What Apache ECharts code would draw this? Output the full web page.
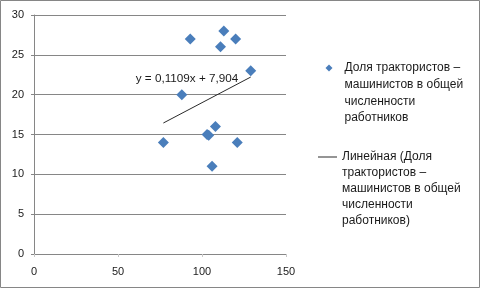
<!DOCTYPE html>
<html><head><meta charset="utf-8">
<script src="https://cdn.jsdelivr.net/npm/echarts@6/dist/echarts.min.js"></script>
<style>html,body{margin:0;padding:0;background:#fff}#c{width:481px;height:289px}</style>
</head><body><div id="c"></div>
<script>
const xValues = [77, 88, 93, 103, 104, 108, 106, 111, 113, 120, 121, 129];
const yValues = [14, 20, 27, 15, 14.9, 16, 11, 26, 28, 27, 14, 23];
const xTickValues = [0, 50, 100, 150];
const yTickValues = [0, 5, 10, 15, 20, 25, 30];
const trendSlope = 0.1109;
const trendIntercept = 7.904;
const trendLabel = 'y = 0,1109x + 7,904';
const seriesName = 'Доля трактористов – машинистов в общей численности работников';
const trendName = 'Линейная (Доля трактористов – машинистов в общей численности работников)';
const legendLines1 = ['Доля трактористов –', 'машинистов в общей', 'численности', 'работников'];
const legendLines2 = ['Линейная (Доля', 'трактористов –', 'машинистов в общей', 'численности', 'работников)'];

const FONT = '"Liberation Sans", Arial, sans-serif';
const TXT = '#1a1a1a';
const points = xValues.map((x, i) => [x, yValues[i]]);
const xMin = Math.min(...xValues), xMax = Math.max(...xValues);
const trendData = [[xMin, trendSlope * xMin + trendIntercept], [xMax, trendSlope * xMax + trendIntercept]];

function topAligned(lines) {
  return '\n'.repeat(lines.length - 1) + lines.join('\n');
}
const LH1 = 16.7, LH2 = 16;

const chart = echarts.init(document.getElementById('c'), null, {renderer: 'canvas'});
chart.setOption({
  animation: false,
  backgroundColor: '#fff',
  textStyle: {fontFamily: FONT},
  grid: {left: 34, right: 195, top: 15, bottom: 35, containLabel: false},
  xAxis: {
    type: 'value', min: xTickValues[0], max: xTickValues[xTickValues.length - 1], interval: xTickValues[1] - xTickValues[0],
    axisLine: {show: false},
    axisTick: {show: true, length: 3, lineStyle: {color: '#c8c8c8'}},
    splitLine: {show: false},
    axisLabel: {color: TXT, fontSize: 11, fontFamily: FONT, margin: 12}
  },
  yAxis: {
    type: 'value', min: yTickValues[0], max: yTickValues[yTickValues.length - 1], interval: yTickValues[1] - yTickValues[0],
    axisLine: {show: true, lineStyle: {color: '#868686', width: 1}},
    axisTick: {show: true, length: 3, lineStyle: {color: '#868686'}},
    splitLine: {show: true, lineStyle: {color: '#868686', width: 1}},
    axisLabel: {color: TXT, fontSize: 11, fontFamily: FONT, margin: 10}
  },
  legend: [
    {
      data: [{name: seriesName, icon: 'diamond'}],
      orient: 'vertical', left: 325.5, top: 68 - (2 * legendLines1.length - 1) * LH1 / 2, padding: 0,
      itemWidth: 7, itemHeight: 7,
      itemStyle: {opacity: 1},
      formatter: () => topAligned(legendLines1),
      textStyle: {color: TXT, fontSize: 12, fontFamily: FONT, lineHeight: LH1, padding: [0, 0, 0, 7]}
    },
    {
      data: [{name: trendName, icon: 'rect'}],
      orient: 'vertical', left: 318, top: 157 - (2 * legendLines2.length - 1) * LH2 / 2, padding: 0,
      itemWidth: 19, itemHeight: 1,
      formatter: () => topAligned(legendLines2),
      textStyle: {color: TXT, fontSize: 12, fontFamily: FONT, lineHeight: LH2}
    }
  ],
  series: [
    {
      name: seriesName, type: 'scatter', data: points,
      symbol: 'diamond', symbolSize: 11,
      itemStyle: {color: '#4a7ebb', opacity: 1}
    },
    {
      name: trendName, type: 'line', data: trendData,
      symbol: 'none', showSymbol: false,
      lineStyle: {color: '#2a2a2a', width: 1},
      itemStyle: {color: '#2a2a2a'},
      markPoint: {
        symbol: 'circle', symbolSize: 1,
        itemStyle: {color: 'rgba(0,0,0,0)'},
        data: [{coord: trendData[1]}],
        label: {show: true, position: 'left', distance: 12, offset: [0, 2], formatter: trendLabel, color: TXT, fontSize: 11.7, fontFamily: FONT}
      }
    }
  ],
  graphic: [{
    type: 'rect', silent: true,
    shape: {x: 0.5, y: 0.5, width: 479, height: 287},
    style: {fill: null, stroke: '#868686', lineWidth: 1}
  }]
});
</script></body></html>
